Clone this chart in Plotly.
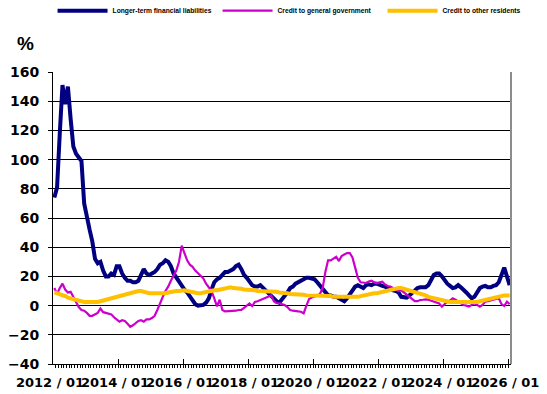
import plotly.graph_objects as go

# Monthly observations, 2012/01 .. 2026/01 (annual growth rates, %)
months = [f"{2012 + m // 12} / {m % 12 + 1:02d}" for m in range(169)]

longer_term_liabilities = [
    74, 81, 118, 151, 138, 150, 128, 109, 104, 102,
    99, 70, 60, 52, 44, 32, 29, 30, 24, 20,
    20, 22, 21, 27, 27, 22, 19, 17, 17, 16,
    16, 17, 21, 25, 22, 21, 22, 23, 25, 28,
    29, 31, 30, 27, 22, 19, 16, 13, 11, 9,
    6, 3, 1, 0, 0, 0.5, 2, 5, 11, 16,
    18, 19, 21, 23, 23, 24, 25, 27, 28, 25,
    21, 19, 16, 14, 13, 13, 14, 12, 10, 8,
    6, 5, 3, 2, 4, 7, 9, 12, 13, 15,
    16, 17, 18, 19, 19, 18.5, 18, 16, 14, 11,
    9, 7, 7, 6, 6, 5, 4, 3, 5, 8,
    10, 13, 14, 13, 12, 14, 14.5, 14, 15, 15,
    14, 13.5, 13, 12, 11, 10.5, 10, 9, 6, 5.5,
    5.5, 7, 9, 11, 12, 12.5, 12.5, 12.5, 14, 18,
    21, 22, 22, 20, 17, 15, 13.5, 12, 12.5, 14,
    12.5, 11, 9, 7, 5, 6, 9, 12, 13, 13.5,
    12.5, 12.5, 13.5, 14, 16, 21, 26, 20, 14,
]

credit_general_government = [
    12, 8, 12, 15, 11, 9, 9.5, 6, 2, -1,
    -3, -3.5, -5, -7, -7, -6, -5, -2, -4.5, -5,
    -5.5, -6, -8, -9.5, -11, -10, -10.5, -12.5, -14.5, -13.5,
    -12, -10.5, -10, -11, -9.5, -9.5, -8.5, -7, -3, 2,
    6, 10, 13, 17, 21, 24, 30, 41, 36, 31,
    28, 26.6, 24, 22, 20, 18.5, 15, 12.5, 10, 5,
    -0.5, 4, -3, -4, -4, -4, -3.5, -3.5, -3, -3,
    -1.5, 0, 1.5, -0.3, 2.5, 3, 3.8, 4.5, 5, 6,
    7, 3, 1.6, 1.6, 1, 0.4, -1, -3, -3.5, -4,
    -4, -4.2, -5.3, 0, 4.5, 5.5, 6, 7, 8, 12,
    23, 31, 31, 32, 33.5, 30.5, 34, 35, 36, 36,
    33, 26, 19, 16, 16, 15.5, 16.5, 17, 16, 15.3,
    16, 16.4, 14.5, 13.4, 13, 12, 11, 10, 10.5, 9,
    7, 6, 4.5, 3, 3, 3.8, 4, 4.3, 4, 3.5,
    2.7, 2, 1.5, -0.7, 1, 2.7, 3.5, 5, 4, 2.7,
    2, 0.4, 0, -0.7, 0.5, 1.6, 0.5, -0.7, 0.5, 2.7,
    3, 3.5, 4, 4.5, 5, 1, -0.3, 2.7, 1,
]

credit_other_residents = [
    9, 8.5, 8, 7.5, 6.5, 5.5, 5, 4, 3.5, 3,
    3, 2.5, 2.5, 2.5, 2, 2.5, 2.5, 3, 3.5, 4,
    4.5, 5, 5.5, 6, 7, 7.5, 8, 8.5, 9, 9.5,
    9.5, 10, 10, 9.5, 8.5, 8.5, 8.5, 8.5, 8.5, 8,
    8, 8.5, 9, 9.5, 9.5, 10, 10, 10.5, 10.5, 10,
    9.5, 9, 8.5, 8.5, 8.5, 9, 9.5, 9.5, 10, 10.5,
    10.5, 11, 11.5, 12, 12.5, 12.5, 12, 12, 11.5, 11.5,
    11, 11, 10.5, 10.5, 10.5, 10, 10, 10, 10, 9.5,
    10, 10, 9.5, 9, 9, 8.5, 8.5, 8, 8, 8,
    7.5, 7.5, 7.5, 7, 7, 7, 7, 7, 6.5, 6.5,
    6.5, 6.5, 6.5, 6, 6, 6, 6, 6, 6, 6,
    5.5, 5.5, 6, 6.5, 7, 7.5, 7.5, 8, 8.5, 8.5,
    9, 9.5, 10, 10.5, 11, 11.5, 12, 12, 12, 11.5,
    11, 10.5, 10, 9, 8.5, 8, 7.5, 7, 6, 5.5,
    5, 4.5, 4, 3.5, 3, 3, 2.5, 2.5, 2.5, 2,
    2, 2, 2, 2, 2, 2, 2.5, 3, 3.5, 4,
    4.5, 5, 5.5, 6, 6.5, 7, 7, 7, 7,
]

series = [
    ("Longer-term financial liabilities", longer_term_liabilities, "#000080", 4),
    ("Credit to general government", credit_general_government, "#CC00CC", 2.2),
    ("Credit to other residents", credit_other_residents, "#FFC000", 4),
]

y_ticks = list(range(-40, 161, 20))
label_every = 24
tick_pos = list(range(0, len(months), label_every))
tick_text = [months[i] for i in tick_pos]

positions = list(range(len(months)))

fig = go.Figure()
for name, values, color, width in series:
    fig.add_trace(go.Scatter(
        x=positions, y=values, name=name, mode="lines",
        line=dict(color=color, width=width),
        customdata=months,
        hovertemplate="%{customdata}: %{y}<extra>" + name + "</extra>",
    ))

y_font = dict(family="DejaVu Sans", size=14, color="black", weight="bold")
x_font = dict(family="DejaVu Sans", size=13, color="black", weight="bold")

fig.update_layout(
    width=547, height=394,
    margin=dict(l=53, r=36, t=72, b=30, autoexpand=False),
    paper_bgcolor="white", plot_bgcolor="white",
    showlegend=True,
    legend=dict(
        orientation="h", x=-0.001, xanchor="left", y=1.21, yanchor="middle",
        font=dict(family="Liberation Sans", size=6.7, color="black", weight="bold"),
        itemwidth=50, entrywidth=100, entrywidthmode="pixels",
        bgcolor="rgba(0,0,0,0)",
    ),
    xaxis=dict(
        range=[-0.5, len(months) - 0.5],
        tickmode="array", tickvals=[p - 0.5 for p in tick_pos], ticktext=tick_text,
        tickangle=0, tickfont=x_font, ticklabelshift=-3, ticklabelstandoff=6,
        ticks="inside", ticklen=5, tickcolor="black", tickwidth=1,
        minor=dict(ticks="outside", ticklen=3, tick0=-0.5, dtick=1,
                   tickcolor="black", tickwidth=1, showgrid=False),
        showgrid=False, zeroline=False,
        showline=True, linecolor="black", linewidth=1,
        automargin=False,
    ),
    yaxis=dict(
        range=[-40, 160], tickmode="array", tickvals=y_ticks,
        tickfont=y_font, ticklabelstandoff=6,
        ticks="outside", ticklen=4, tickcolor="black",
        showgrid=True, gridcolor="black", gridwidth=1,
        zeroline=False,
        showline=True, linecolor="black", linewidth=1,
        automargin=False,
    ),
    shapes=[dict(type="line", xref="paper", yref="paper", x0=1, x1=1, y0=0, y1=1,
                 line=dict(color="#8c8c8c", width=2))],
    annotations=[dict(text="%", xref="paper", yref="paper", x=-0.059, y=1.099,
                      showarrow=False, xanchor="center", yanchor="middle",
                      font=dict(family="Liberation Sans", size=19, color="black", weight="bold"))],
)

fig.write_html("out.html")
